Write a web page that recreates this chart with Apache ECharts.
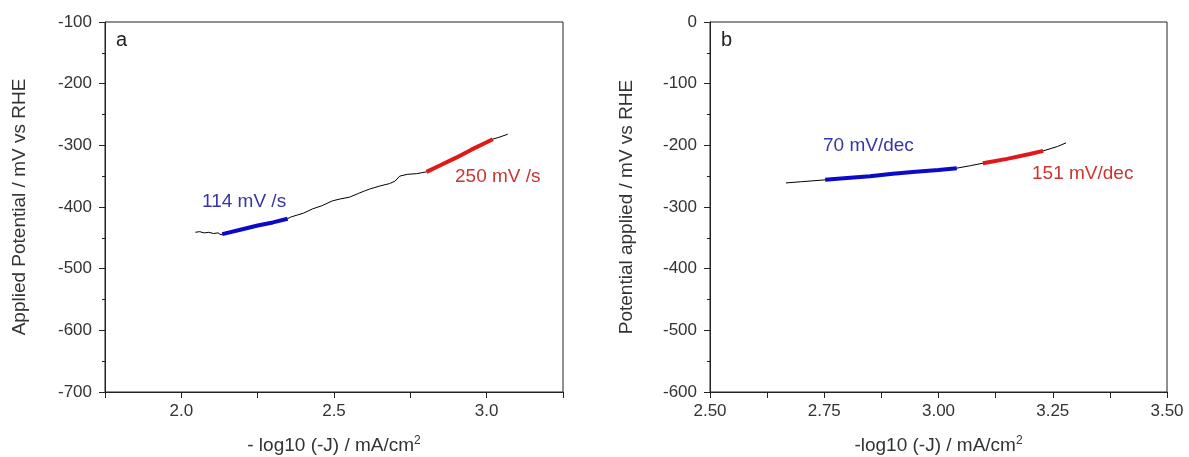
<!DOCTYPE html>
<html>
<head>
<meta charset="utf-8">
<script src="https://cdn.jsdelivr.net/npm/echarts@6/dist/echarts.min.js"></script>
<style>
  html, body { margin: 0; padding: 0; background: #fff; }
  #chart { width: 1189px; height: 457px; }
</style>
</head>
<body>
<div id="chart"></div>
<script>
// panel a: -log10(-J) vs applied potential (mV)
const curveA = [
  [2.046, -441], [2.06, -440], [2.075, -442], [2.09, -441], [2.105, -443],
  [2.12, -442], [2.13, -445], [2.14, -443], [2.20, -436], [2.25, -430],
  [2.30, -425], [2.348, -419], [2.36, -416], [2.38, -413], [2.40, -410],
  [2.43, -403], [2.46, -398], [2.495, -390], [2.52, -387], [2.551, -384],
  [2.58, -378], [2.60, -374], [2.616, -371], [2.65, -366], [2.682, -362],
  [2.70, -358], [2.715, -350], [2.74, -347], [2.77, -346], [2.803, -343],
  [2.85, -332], [2.90, -320], [2.95, -307], [3.00, -295], [3.02, -290],
  [3.04, -287], [3.069, -282]
];
const fitA_low = [[2.134, -444], [2.20, -436], [2.25, -430], [2.30, -425], [2.348, -419]];
const fitA_high = [[2.803, -343], [2.85, -332], [2.90, -320], [2.95, -307], [3.00, -295], [3.02, -290]];

// panel b
const curveB = [
  [2.666, -261], [2.70, -259], [2.752, -256], [2.80, -253], [2.85, -250],
  [2.90, -246], [2.95, -243], [3.00, -240], [3.04, -237], [3.07, -233],
  [3.097, -229], [3.15, -222], [3.20, -214], [3.229, -209], [3.26, -202],
  [3.279, -196]
];
const fitB_low = [[2.752, -256], [2.80, -253], [2.85, -250], [2.90, -246], [2.95, -243], [3.00, -240], [3.04, -237]];
const fitB_high = [[3.097, -229], [3.15, -222], [3.20, -214], [3.229, -209]];

const labelsA = ['114 mV /s', '250 mV /s'];
const labelsB = ['70 mV/dec', '151 mV/dec'];

const FONT = '"Liberation Sans", Arial, sans-serif';
const AXIS_COLOR = '#222';
const TEXT_COLOR = '#333';
const BLUE = '#0a0ac8';
const RED = '#e01818';

const chart = echarts.init(document.getElementById('chart'));

const xName = (prefix) => ({
  name: prefix + 'log10 (-J) / mA/cm{sup|2}',
  nameLocation: 'middle',
  nameGap: 43,
  nameTextStyle: {
    color: TEXT_COLOR, fontSize: 19, fontFamily: FONT,
    rich: { sup: { fontSize: 12, fontFamily: FONT, color: TEXT_COLOR, padding: [0, 0, 10, 0] } }
  }
});

const baseAxis = {
  axisLine: { show: true, onZero: false, lineStyle: { color: AXIS_COLOR, width: 1 } },
  axisTick: { show: true, inside: false, length: 6, lineStyle: { color: AXIS_COLOR } },
  splitLine: { show: false },
  axisLabel: { color: TEXT_COLOR, fontSize: 17, fontFamily: FONT }
};

const yAxis = (min, max, name, gap) => ({
  ...baseAxis,
  type: 'value',
  min: min, max: max, interval: 100,
  minorTick: { show: true, splitNumber: 2, length: 3, lineStyle: { color: AXIS_COLOR } },
  axisLabel: { ...baseAxis.axisLabel, margin: 13 },
  name: name,
  nameLocation: 'middle',
  nameGap: gap,
  nameRotate: 90,
  nameTextStyle: { color: TEXT_COLOR, fontSize: 19, fontFamily: FONT }
});

const option = {
  backgroundColor: '#fff',
  animation: false,
  grid: [
    { left: 105, top: 22, width: 458, height: 370, outerBoundsMode: 'none', containLabel: false, show: true, borderColor: AXIS_COLOR, borderWidth: 1, backgroundColor: '#fff' },
    { left: 710, top: 22, width: 457, height: 370, outerBoundsMode: 'none', containLabel: false, show: true, borderColor: AXIS_COLOR, borderWidth: 1, backgroundColor: '#fff' }
  ],
  xAxis: [
    {
      ...baseAxis, ...xName('- '),
      type: 'value', gridIndex: 0,
      min: 1.75, max: 3.25, interval: 0.25,
      axisLabel: {
        ...baseAxis.axisLabel, margin: 11,
        formatter: (v) => Math.abs(v * 2 - Math.round(v * 2)) < 1e-6 ? v.toFixed(1) : ''
      }
    },
    {
      ...baseAxis, ...xName('-'),
      type: 'value', gridIndex: 1,
      min: 2.5, max: 3.5, interval: 0.125,
      axisLabel: {
        ...baseAxis.axisLabel, margin: 11,
        formatter: (v) => Math.abs(v * 4 - Math.round(v * 4)) < 1e-6 ? v.toFixed(2) : ''
      }
    }
  ],
  yAxis: [
    { ...yAxis(-700, -100, 'Applied Potential / mV vs RHE', 76), gridIndex: 0 },
    { ...yAxis(-600, 0, 'Potential applied / mV vs RHE', 74), gridIndex: 1 }
  ],
  series: [
    { type: 'line', xAxisIndex: 0, yAxisIndex: 0, data: curveA, showSymbol: false, lineStyle: { color: '#000', width: 1 } },
    { type: 'line', xAxisIndex: 0, yAxisIndex: 0, data: fitA_low, showSymbol: false, lineStyle: { color: BLUE, width: 4 } },
    { type: 'line', xAxisIndex: 0, yAxisIndex: 0, data: fitA_high, showSymbol: false, lineStyle: { color: RED, width: 4 } },
    { type: 'line', xAxisIndex: 1, yAxisIndex: 1, data: curveB, showSymbol: false, lineStyle: { color: '#000', width: 1 } },
    { type: 'line', xAxisIndex: 1, yAxisIndex: 1, data: fitB_low, showSymbol: false, lineStyle: { color: BLUE, width: 4 } },
    { type: 'line', xAxisIndex: 1, yAxisIndex: 1, data: fitB_high, showSymbol: false, lineStyle: { color: RED, width: 4 } }
  ],
  graphic: [
    { type: 'text', left: 116, top: 30, style: { text: 'a', fontSize: 20, fontFamily: FONT, fill: '#222' } },
    { type: 'text', left: 721, top: 30, style: { text: 'b', fontSize: 20, fontFamily: FONT, fill: '#222' } },
    { type: 'text', left: 202, top: 192, style: { text: labelsA[0], fontSize: 19, fontFamily: FONT, fill: '#3535a8' } },
    { type: 'text', left: 455, top: 167, style: { text: labelsA[1], fontSize: 19, fontFamily: FONT, fill: '#cc3434' } },
    { type: 'text', left: 823, top: 136, style: { text: labelsB[0], fontSize: 19, fontFamily: FONT, fill: '#3535a8' } },
    { type: 'text', left: 1032, top: 164, style: { text: labelsB[1], fontSize: 19, fontFamily: FONT, fill: '#cc3434' } }
  ]
};

chart.setOption(option);
</script>
</body>
</html>
